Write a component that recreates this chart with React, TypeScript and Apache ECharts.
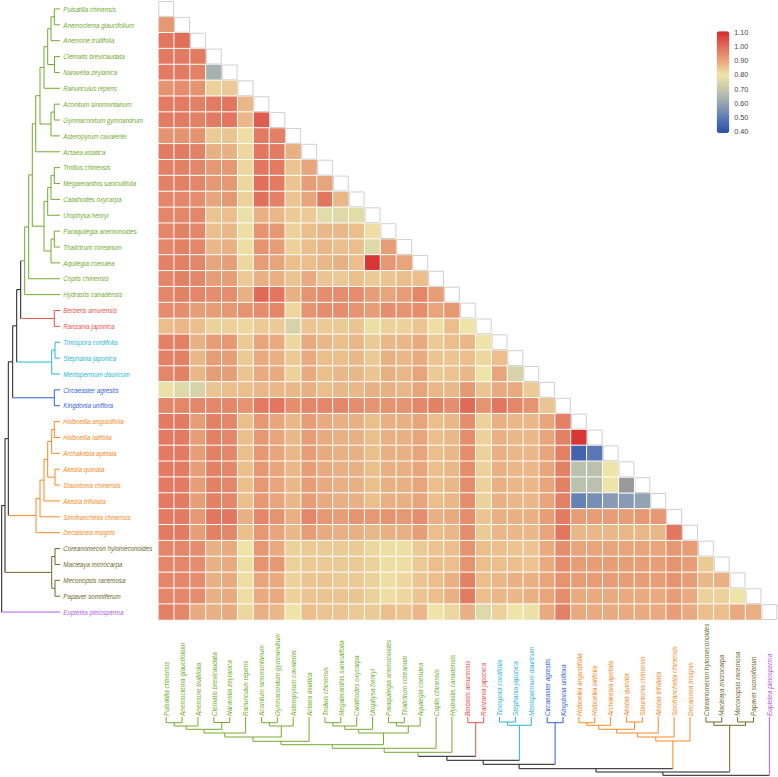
import React, { useEffect, useRef } from "react";
import * as echarts from "echarts";

const species = [
  "Pulsatilla chinensis", "Anemoclema glaucifolium", "Anemone trullifolia", "Clematis brevicaudata",
  "Naravelia zeylanica", "Ranunculus repens", "Aconitum sinomontanum", "Gymnaconitum gymnandrum",
  "Asteropyrum cavaleriei", "Actaea asiatica", "Trollius chinensis", "Megaleranthis saniculifolia",
  "Calathodes oxycarpa", "Urophysa henryi", "Paraquilegia anemonoides", "Thalictrum coreanum",
  "Aquilegia coerulea", "Coptis chinensis", "Hydrastis canadensis", "Berberis amurensis",
  "Ranzania japonica", "Tinospora cordifolia", "Stephania japonica", "Menispermum dauricum",
  "Circaeaster agrestis", "Kingdonia uniflora", "Holboellia angustifolia", "Holboellia latifolia",
  "Archakebia apetala", "Akebia quinata", "Stauntonia chinensis", "Akebia trifoliata",
  "Sinofranchetia chinensis", "Decaisnea insignis", "Coreanomecon hylomeconoides", "Macleaya microcarpa",
  "Meconopsis racemosa", "Papaver somniferum", "Euptelea pleiosperma",
];

// clade of each leaf: 0 Ranunculaceae, 1 Berberidaceae, 2 Menispermaceae, 3 Circaeasteraceae,
// 4 Lardizabalaceae, 5 Papaveraceae, 6 Eupteleaceae
const leafGroup = [
  0, 0, 0, 0, 0, 0, 0, 0, 0, 0, 0, 0, 0, 0, 0, 0, 0, 0, 0,
  1, 1, 2, 2, 2, 3, 3, 4, 4, 4, 4, 4, 4, 4, 4, 5, 5, 5, 5, 6,
];
const groupColors = ["#74aa2e", "#e8534b", "#2ab5d4", "#2f5fdc", "#f78a22", "#6d6925", "#b35de6"];
const joinColor = "#1c1c1c";

// dendrogram: leaf = index, internal node = [height, left, right]
const tree: any = [58.3,
  [55,
    [51.7,
      [47.3,
        [43.3,
          [39.3,
            [35.3,
              [31.3,
                [27.7,
                  [24.3,
                    [20,
                      [16, [12.3, [9, [5.7, 0, 1], 2], [5.5, 3, 4]], 5],
                      [9, [5.7, 6, 7], 8]],
                    9],
                  [16, [12.3, [9, [5.7, 10, 11], 12], 13], [9, [5.7, 14, 15], 16]]],
                17],
              18],
            [5.7, 19, 20]],
          [8.3, [5, 21, 22], 23]],
        [5.7, 24, 25]],
      [24, [20, [16, [12.3, [8.3, [5.7, 26, 27], 28], [5, 29, 30]], 31], 32], 33]],
    [8.3, [5, 34, 35], [5, 36, 37]]],
  38];

// lower-triangle similarity values, row r holds columns 0..r-1 (null = missing)
const simRows: (number | null)[][] = [
  [],
  [0.92],
  [0.98, 0.99],
  [0.97, 0.97, 0.97],
  [0.97, 0.97, 0.96, 0.64],
  [0.93, 0.94, 0.93, 0.83, 0.84],
  [0.97, 0.97, 0.96, 0.97, 0.98, 0.87],
  [0.97, 0.97, 0.96, 0.97, 0.98, 0.87, 1.02],
  [0.93, 0.93, 0.93, 0.84, 0.85, 0.81, 0.97, 0.96],
  [0.97, 0.97, 0.96, 0.88, 0.88, 0.82, 0.98, 0.97, 0.88],
  [0.96, 0.96, 0.95, 0.92, 0.92, 0.82, 0.98, 0.97, 0.85, 0.90],
  [0.96, 0.96, 0.95, 0.92, 0.92, 0.82, 0.99, 0.97, 0.85, 0.91, 0.90],
  [0.95, 0.95, 0.94, 0.90, 0.92, 0.83, 0.99, 0.96, 0.85, 0.90, 0.98, 0.87],
  [0.95, 0.95, 0.95, 0.85, 0.86, 0.79, 0.88, 0.87, 0.84, 0.84, 0.77, 0.76, 0.77],
  [0.95, 0.96, 0.95, 0.86, 0.87, 0.81, 0.93, 0.92, 0.83, 0.86, 0.87, 0.87, 0.86, 0.81],
  [0.95, 0.96, 0.95, 0.87, 0.88, 0.81, 0.93, 0.91, 0.83, 0.86, 0.87, 0.86, 0.86, 0.76, 0.91],
  [0.96, 0.96, 0.95, 0.90, 0.91, 0.82, 0.91, 0.90, 0.86, 0.86, 0.87, 0.88, 0.86, 1.08, 0.92, 0.90],
  [0.95, 0.96, 0.95, 0.91, 0.91, 0.84, 0.88, 0.88, 0.85, 0.89, 0.85, 0.84, 0.86, 0.84, 0.85, 0.86, 0.86],
  [0.95, 0.96, 0.95, 0.94, 0.94, 0.88, 1.00, 0.98, 0.88, 0.93, 0.94, 0.94, 0.94, 0.91, 0.90, 0.91, 0.95, 0.91],
  [0.94, 0.94, 0.91, 0.91, 0.92, 0.93, 0.94, 0.95, 0.82, 0.93, 0.94, 0.94, 0.93, 0.91, 0.94, 0.93, 0.94, 0.90, 0.92],
  [0.86, 0.87, 0.86, 0.83, 0.83, 0.82, 0.84, 0.84, 0.74, 0.85, 0.84, 0.84, 0.85, 0.81, 0.83, 0.83, 0.85, 0.81, 0.86, 0.80],
  [0.96, 0.96, 0.88, 0.91, 0.92, 0.84, 0.90, 0.89, 0.82, 0.89, 0.87, 0.86, 0.87, 0.84, 0.87, 0.87, 0.89, 0.84, 0.86, 0.87, 0.80],
  [0.96, 0.96, 0.87, 0.91, 0.91, 0.84, 0.89, 0.88, 0.84, 0.89, 0.86, 0.86, 0.87, 0.84, 0.88, 0.87, 0.89, 0.85, 0.85, 0.86, 0.82, 0.86],
  [0.95, 0.96, 0.87, 0.91, 0.91, 0.85, 0.89, 0.89, 0.83, 0.89, 0.86, 0.87, 0.87, 0.85, 0.88, 0.87, 0.90, 0.84, 0.85, 0.87, 0.80, 0.90, 0.74],
  [0.79, 0.76, 0.74, 0.85, 0.86, 0.86, 0.87, 0.87, 0.87, 0.88, 0.86, 0.87, 0.87, 0.88, 0.88, 0.87, 0.90, 0.87, 0.87, 0.92, 0.85, 0.89, 0.89, 0.84],
  [0.95, 0.95, 0.95, 0.95, 0.95, 0.93, 0.97, 0.98, 0.94, 0.95, 0.95, 0.95, 0.94, 0.93, 0.93, 0.93, 0.95, 0.96, 0.94, 1.00, 0.93, 0.98, 0.95, 0.93, 0.85],
  [0.97, 0.97, 0.91, 0.96, 0.95, 0.86, 0.92, 0.90, 0.87, 0.91, 0.89, 0.88, 0.88, 0.86, 0.88, 0.88, 0.90, 0.86, 0.87, 0.94, 0.83, 0.88, 0.87, 0.87, 0.90, 0.96],
  [0.97, 0.97, 0.91, 0.96, 0.95, 0.86, 0.92, 0.90, 0.87, 0.91, 0.89, 0.88, 0.88, 0.86, 0.88, 0.88, 0.90, 0.86, 0.87, 0.94, 0.83, 0.88, 0.87, 0.87, 0.90, 0.96, 1.08],
  [0.97, 0.97, 0.91, 0.96, 0.95, 0.86, 0.92, 0.90, 0.87, 0.91, 0.89, 0.88, 0.88, 0.86, 0.88, 0.88, 0.90, 0.86, 0.87, 0.94, 0.83, 0.88, 0.87, 0.87, 0.90, 0.96, 0.45, 0.50],
  [0.97, 0.97, 0.91, 0.96, 0.95, 0.86, 0.92, 0.90, 0.87, 0.91, 0.89, 0.88, 0.88, 0.86, 0.88, 0.88, 0.90, 0.86, 0.87, 0.94, 0.83, 0.88, 0.87, 0.87, 0.90, 0.96, 0.68, 0.68, 0.80],
  [0.97, 0.97, 0.91, 0.96, 0.95, 0.86, 0.92, 0.90, 0.87, 0.91, 0.89, 0.88, 0.88, 0.86, 0.88, 0.88, 0.90, 0.86, 0.87, 0.94, 0.83, 0.88, 0.87, 0.87, 0.90, 0.96, 0.68, 0.68, 0.80, null],
  [0.97, 0.97, 0.91, 0.96, 0.95, 0.86, 0.92, 0.90, 0.87, 0.91, 0.89, 0.88, 0.88, 0.86, 0.88, 0.88, 0.90, 0.86, 0.87, 0.94, 0.83, 0.88, 0.87, 0.87, 0.90, 0.96, 0.52, 0.55, 0.58, 0.58, 0.60],
  [0.97, 0.97, 0.92, 0.98, 0.98, 0.88, 0.95, 0.93, 0.88, 0.95, 0.92, 0.91, 0.93, 0.92, 0.93, 0.92, 0.94, 0.88, 0.89, 0.94, 0.85, 0.88, 0.88, 0.88, 0.91, 0.97, 0.91, 0.91, 0.91, 0.91, 0.92, 0.92],
  [0.97, 0.97, 0.91, 0.96, 0.95, 0.86, 0.92, 0.90, 0.87, 0.91, 0.89, 0.88, 0.88, 0.87, 0.88, 0.88, 0.91, 0.86, 0.87, 0.94, 0.84, 0.87, 0.87, 0.87, 0.90, 0.98, 0.87, 0.87, 0.87, 0.87, 0.87, 0.87, 0.98],
  [0.95, 0.95, 0.94, 0.88, 0.89, 0.80, 0.92, 0.89, 0.83, 0.84, 0.84, 0.84, 0.84, 0.82, 0.81, 0.81, 0.84, 0.85, 0.86, 0.93, 0.86, 0.86, 0.85, 0.85, 0.89, 0.94, 0.90, 0.90, 0.90, 0.90, 0.90, 0.90, 0.92, 0.91],
  [0.95, 0.95, 0.94, 0.88, 0.89, 0.81, 0.93, 0.92, 0.83, 0.84, 0.84, 0.84, 0.84, 0.83, 0.81, 0.81, 0.84, 0.86, 0.86, 0.93, 0.86, 0.86, 0.86, 0.85, 0.89, 0.94, 0.91, 0.91, 0.91, 0.91, 0.91, 0.91, 0.93, 0.91, 0.84],
  [0.95, 0.95, 0.94, 0.88, 0.89, 0.81, 0.90, 0.89, 0.83, 0.85, 0.85, 0.84, 0.84, 0.83, 0.81, 0.82, 0.85, 0.86, 0.88, 0.96, 0.86, 0.87, 0.88, 0.88, 0.90, 0.93, 0.91, 0.91, 0.91, 0.91, 0.91, 0.91, 0.93, 0.91, 0.87, 0.88],
  [0.95, 0.95, 0.94, 0.88, 0.89, 0.81, 0.89, 0.89, 0.83, 0.85, 0.85, 0.85, 0.85, 0.83, 0.81, 0.82, 0.85, 0.86, 0.88, 0.97, 0.86, 0.87, 0.87, 0.88, 0.90, 0.94, 0.89, 0.89, 0.89, 0.89, 0.89, 0.89, 0.91, 0.89, 0.83, 0.83, 0.80],
  [0.96, 0.95, 0.89, 0.88, 0.89, 0.82, 0.88, 0.87, 0.80, 0.86, 0.85, 0.85, 0.84, 0.84, 0.86, 0.85, 0.87, 0.80, 0.82, 0.88, 0.76, 0.83, 0.80, 0.79, 0.89, 0.96, 0.89, 0.89, 0.89, 0.89, 0.89, 0.89, 0.91, 0.89, 0.86, 0.86, 0.89, 0.88],
];

const colorStops = ["#2c4ea9", "#5a78b5", "#93a3b4", "#c5c8ab", "#efe4a8", "#e8a47a", "#e06a57", "#d6292a"];
const scaleMin = 0.4;
const scaleMax = 1.1;
const legendTicks = [1.1, 1.0, 0.9, 0.8, 0.7, 0.6, 0.5, 0.4];

const labelFont = '"Liberation Sans", Arial, sans-serif';

function buildSegments(node: any, out: number[][]): { pos: number; h: number; g: number } {
  if (typeof node === "number") return { pos: node, h: 0, g: leafGroup[node] };
  const [h, a, b] = node;
  const A = buildSegments(a, out);
  const B = buildSegments(b, out);
  const g = A.g === B.g ? A.g : -1;
  out.push([h, A.pos, h, B.pos, g]);
  out.push([h, A.pos, A.h, A.pos, A.g]);
  out.push([h, B.pos, B.h, B.pos, B.g]);
  return { pos: (A.pos + B.pos) / 2, h, g };
}

function buildOption() {
  const heat: number[][] = [];
  const missing: number[][] = [];
  simRows.forEach((row, r) => {
    row.forEach((v, c) => {
      if (c >= r) return;
      if (v === null) missing.push([c, r]);
      else heat.push([c, r, v]);
    });
  });
  const diag = species.map((_, i) => [i, i]);
  const segs: number[][] = [];
  buildSegments(tree, segs);
  const segColor = (g: number) => (g < 0 ? joinColor : groupColors[g]);

  const gridLeft = 158.3;
  const gridTop = 1;
  const gridSize = 619;
  const legendTop = 31.3;
  const legendH = 101.7;
  const tickTop = 32.7;
  const tickSpan = 98.6;
  const labelSize = 7.5;

  const labelStyle = (i: number) => ({
    text: species[i], fontSize: labelSize, fontStyle: "italic", fontFamily: labelFont,
    fill: groupColors[leafGroup[i]], align: "left", verticalAlign: "middle",
  });

  return {
    animation: false,
    backgroundColor: "#ffffff",
    grid: [
      { left: gridLeft, top: gridTop, width: gridSize, height: gridSize },
      { left: 0, top: gridTop, width: 60, height: gridSize },
      { left: gridLeft, top: 717, width: gridSize, height: 58.3 },
    ],
    xAxis: [
      {
        gridIndex: 0, type: "category", data: species, position: "bottom",
        axisLine: { show: false }, axisTick: { show: false }, splitLine: { show: false },
        axisLabel: { show: false },
      },
      { gridIndex: 1, type: "value", min: 0, max: 60, inverse: true, show: false },
      { gridIndex: 2, type: "value", min: -0.5, max: 38.5, show: false },
    ],
    yAxis: [
      {
        gridIndex: 0, type: "category", data: species, inverse: true,
        axisLine: { show: false }, axisTick: { show: false }, splitLine: { show: false },
        axisLabel: { show: false },
      },
      { gridIndex: 1, type: "value", min: -0.5, max: 38.5, inverse: true, show: false },
      { gridIndex: 2, type: "value", min: 0, max: 58.3, inverse: true, show: false },
    ],
    visualMap: {
      type: "continuous", min: scaleMin, max: scaleMax, seriesIndex: 0,
      calculable: false, hoverLink: false, padding: 0,
      left: 716.7, top: legendTop, itemWidth: 12.6, itemHeight: legendH,
      inRange: { color: colorStops },
    },
    graphic: legendTicks.map((v) => ({
      type: "text", x: 734.3, y: tickTop + ((scaleMax - v) / (scaleMax - scaleMin)) * tickSpan, silent: true,
      style: { text: v.toFixed(2), fontSize: 7.2, fontFamily: "Liberation Sans, Arial, sans-serif", fill: "#444", verticalAlign: "middle", align: "left" },
    })),
    series: [
      {
        type: "heatmap", xAxisIndex: 0, yAxisIndex: 0, data: heat, silent: true,
        itemStyle: { borderColor: "#ffffff", borderWidth: 1 },
        emphasis: { disabled: true },
      },
      {
        type: "custom", xAxisIndex: 0, yAxisIndex: 0, data: diag, silent: true,
        renderItem: (_p: any, api: any) => {
          const c = api.coord([api.value(0), api.value(1)]);
          const s = api.size([1, 1]);
          return {
            type: "rect",
            shape: { x: c[0] - s[0] / 2 + 0.5, y: c[1] - s[1] / 2 + 0.5, width: s[0] - 1, height: s[1] - 1 },
            style: { fill: "#ffffff", stroke: "#d0d0d0", lineWidth: 1 },
          };
        },
      },
      {
        type: "custom", xAxisIndex: 0, yAxisIndex: 0, data: missing, silent: true,
        renderItem: (_p: any, api: any) => {
          const c = api.coord([api.value(0), api.value(1)]);
          const s = api.size([1, 1]);
          return {
            type: "rect",
            shape: { x: c[0] - s[0] / 2, y: c[1] - s[1] / 2, width: s[0], height: s[1] },
            style: { fill: "#9a9a9a", stroke: "#ffffff", lineWidth: 1 },
          };
        },
      },
      {
        type: "custom", xAxisIndex: 1, yAxisIndex: 1, data: segs, silent: true,
        renderItem: (_p: any, api: any) => {
          const p1 = api.coord([api.value(0), api.value(1)]);
          const p2 = api.coord([api.value(2), api.value(3)]);
          return {
            type: "line",
            shape: { x1: p1[0], y1: p1[1], x2: p2[0], y2: p2[1] },
            style: { stroke: segColor(api.value(4)), lineWidth: 1 },
          };
        },
      },
      {
        type: "custom", xAxisIndex: 2, yAxisIndex: 2, data: segs, silent: true,
        renderItem: (_p: any, api: any) => {
          const p1 = api.coord([api.value(1), api.value(0)]);
          const p2 = api.coord([api.value(3), api.value(2)]);
          return {
            type: "line",
            shape: { x1: p1[0], y1: p1[1], x2: p2[0], y2: p2[1] },
            style: { stroke: segColor(api.value(4)), lineWidth: 1 },
          };
        },
      },
      {
        // row labels (left of the matrix)
        type: "custom", xAxisIndex: 0, yAxisIndex: 0, silent: true,
        data: species.map((_, i) => [0, i]),
        renderItem: (params: any, api: any) => {
          const i = api.value(1);
          const c = api.coord([0, i]);
          return {
            type: "text", x: params.coordSys.x - 95, y: c[1], scaleX: 0.83,
            style: labelStyle(i),
          };
        },
      },
      {
        // column labels (below the matrix)
        type: "custom", xAxisIndex: 0, yAxisIndex: 0, silent: true,
        data: species.map((_, i) => [i, 0]),
        renderItem: (params: any, api: any) => {
          const i = api.value(0);
          const c = api.coord([i, 0]);
          return {
            type: "text", x: c[0], y: params.coordSys.y + params.coordSys.height + 96,
            rotation: Math.PI / 2, scaleX: 0.86,
            style: labelStyle(i),
          };
        },
      },
    ],
  };
}

export default function App() {
  const ref = useRef<HTMLDivElement>(null);
  useEffect(() => {
    if (!ref.current) return;
    const chart = echarts.init(ref.current, null, { renderer: "svg" });
    chart.setOption(buildOption() as any);
    return () => chart.dispose();
  }, []);
  return (
    <div
      ref={ref}
      style={{ position: "absolute", left: 0, top: 0, width: 778, height: 777, background: "#fff" }}
    />
  );
}
